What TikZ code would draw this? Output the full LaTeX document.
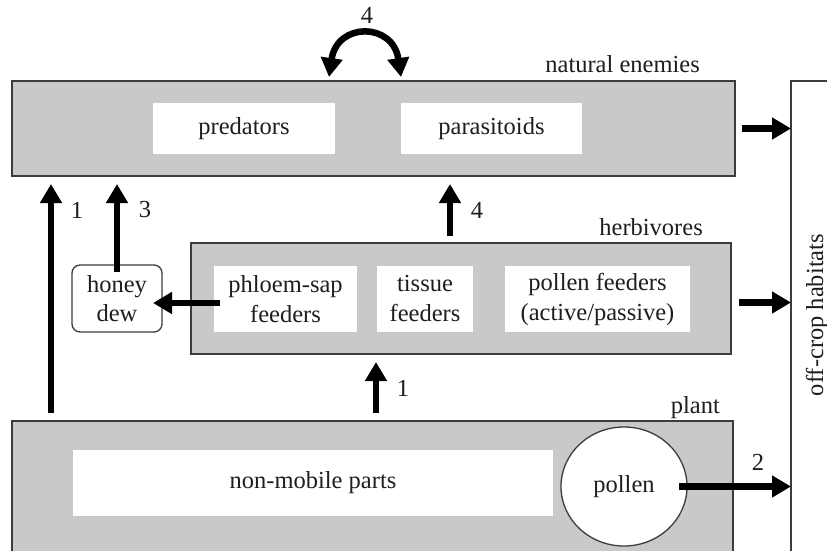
\documentclass[tikz,border=0pt]{standalone}
\usepackage{fontspec}
\setmainfont{Liberation Serif}
\usetikzlibrary{arrows.meta,calc,shapes.geometric}
\definecolor{boxgray}{RGB}{200,201,203}
\definecolor{edgegray}{RGB}{60,60,60}
\definecolor{inkc}{RGB}{30,30,30}
\tikzset{
  lay/.style={draw=edgegray, line width=1.3pt, fill=boxgray, inner sep=0pt, outer sep=0pt, anchor=north west},
  wbox/.style={fill=white, inner sep=0pt, outer sep=0pt, anchor=north west, align=center, text=inkc,
    font=\fontsize{24.5}{30}\selectfont},
  lbl/.style={text=inkc, inner sep=0pt, font=\fontsize{24.5}{30}\selectfont},
  arr/.style={draw=black, line width=6.5pt, -{Triangle[width=21pt,length=19pt]}},
  darr/.style={draw=black, line width=6.5pt, {Triangle[width=21pt,length=19pt]}-{Triangle[width=21pt,length=19pt]}}
}
\begin{document}
\begin{tikzpicture}[x=1pt,y=-1pt]
\useasboundingbox (0,0) rectangle (827,551);
\fill[white] (0,0) rectangle (827,551);
\clip (0,0) rectangle (827,551);

% layers
\node[lay, minimum width=723pt, minimum height=95pt] (ne) at (12,81) {};
\node[lay, minimum width=540pt, minimum height=111pt] (herb) at (191,243) {};
\node[lay, minimum width=721pt, minimum height=150pt] (plant) at (12,421) {};
\node[draw=edgegray, line width=1.3pt, fill=white, inner sep=0pt, outer sep=0pt, anchor=north west,
      minimum width=60pt, minimum height=490pt] (off) at (791,81) {};

% layer labels
\node[lbl, anchor=base east] (lne) at (700,73) {natural enemies};
\node[lbl, anchor=base east] (lherb) at (703,235) {herbivores};
\node[lbl, anchor=base east] (lplant) at (720,413) {plant};
\node[lbl, rotate=90] (loff) at (817,315) {off-crop habitats};

% natural enemies contents
\node[wbox, minimum width=182pt, minimum height=51pt] (pred) at (153,103) {predators};
\node[wbox, minimum width=181pt, minimum height=51pt] (para) at (401,103) {parasitoids};

% herbivores contents
\node[wbox, minimum width=143pt, minimum height=66pt] (phl) at (214,266) {phloem-sap\\feeders};
\node[wbox, minimum width=96pt, minimum height=66pt] (tis) at (377,266) {tissue\\feeders};
\node[wbox, minimum width=185pt, minimum height=66pt] (pfe) at (505,266) {pollen feeders\\(active/passive)};

% honey dew
\node[draw=edgegray, line width=1.3pt, fill=white, rounded corners=8pt, inner sep=0pt, outer sep=0pt,
      anchor=north west, minimum width=90pt, minimum height=67pt, align=center, text=inkc,
      font=\fontsize{24.5}{29}\selectfont] (honey) at (72,265) {honey\\dew};

% plant contents
\node[wbox, minimum width=480pt, minimum height=66pt] (nonmob) at (73,450) {non-mobile parts};
\node[draw=edgegray, line width=1.3pt, fill=white, ellipse, inner sep=0pt, outer sep=0pt,
      minimum width=126pt, minimum height=119pt, text=inkc, font=\fontsize{24.5}{30}\selectfont]
      (pollen) at (624,486.5) {pollen};

% anchor coordinates for vertical arrows
\coordinate (a1l) at (51,421);
\coordinate (a4m) at (450,243);
\coordinate (a1m) at (376,421);

% arrows
\draw[arr, shorten <=8pt, shorten >=8pt] (a1l) -- (a1l |- ne.south);
\draw[arr, shorten <=-7pt, shorten >=8pt] (honey.north) -- (honey.north |- ne.south);
\draw[arr, shorten <=-6pt, shorten >=-9pt] ([yshift=-4pt]phl.west) -- ([yshift=-4pt]phl.west -| honey.east);
\draw[arr, shorten <=7pt, shorten >=8pt] (a4m) -- (a4m |- ne.south);
\draw[arr, shorten <=8pt, shorten >=8pt] (a1m) -- (a1m |- herb.south);
\draw[arr, shorten <=7pt] (ne.east) -- (ne.east -| off.west);
\draw[arr, shorten <=8pt] ([yshift=-4pt]herb.east) -- ([yshift=-4pt]herb.east -| off.west);
\draw[arr, shorten <=-8pt] (pollen.east) -- (pollen.east -| off.west);

% top double arrow
\coordinate (c4l) at (329,77);
\coordinate (c4r) at (401,77);
\draw[darr] (c4l) .. controls (337,22) and (393,22) .. (c4r);

% arrow labels
\node[lbl] (n4t) at (367,15) {4};
\node[lbl] (n1l) at (77,210) {1};
\node[lbl] (n3) at (145,210) {3};
\node[lbl] (n4m) at (477,210) {4};
\node[lbl] (n1m) at (403,388) {1};
\node[lbl] (n2) at (758,462) {2};
\end{tikzpicture}
\end{document}
